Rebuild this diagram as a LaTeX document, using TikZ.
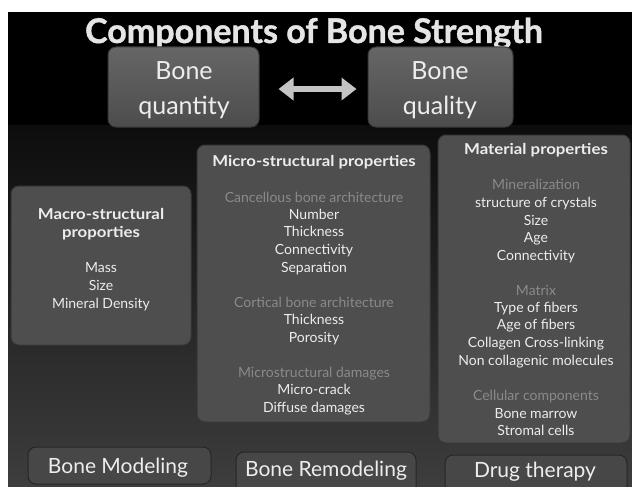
\documentclass[tikz,border=0pt]{standalone}
\usepackage{fontspec}
\setmainfont{Lato}
\newfontfamily\headfont{Lato}[FakeStretch=1.12]
\newfontfamily\titlefont{Lato}[FakeStretch=1.0, FakeBold=1.2]
\usetikzlibrary{arrows.meta}
\definecolor{boxfill}{HTML}{4E4E4E}
\definecolor{boxedge}{HTML}{383838}
\definecolor{subgray}{HTML}{8A8A8A}
\definecolor{txt}{HTML}{EDEDED}
\definecolor{arrowgray}{HTML}{C4C4C4}
\tikzset{
  panel/.style={rectangle, rounded corners=8pt, fill=boxfill, draw=boxedge, line width=1pt, inner sep=0pt},
  topbox/.style={rectangle, rounded corners=8pt, top color=black!60, bottom color=black!70, draw=boxedge, line width=1pt, inner sep=0pt},
  toptext/.style={text=txt, anchor=base, font=\fontsize{25}{30}\selectfont, inner sep=0pt},
  botbox/.style={rectangle, rounded corners=8pt, fill=black!72, draw=black!85, line width=1pt, inner sep=0pt},
  bottext/.style={text=txt, anchor=base, font=\fontsize{21}{25}\selectfont, inner sep=0pt},
  headline/.style={text=txt, anchor=base, font=\fontsize{15}{18}\headfont\bfseries, inner sep=0pt},
  itemline/.style={text=txt, anchor=base, font=\fontsize{14}{17}\selectfont, inner sep=0pt},
  subline/.style={text=subgray, anchor=base, font=\fontsize{14}{17}\selectfont, inner sep=0pt},
}
\begin{document}
\begin{tikzpicture}[x=1pt,y=-1pt]
\useasboundingbox (0,0) rectangle (632,487);
\clip (0,0) rectangle (632,487);
\fill[white] (0,0) rectangle (632,487);
\fill[black] (8,12) rectangle (632,126);
\shade[top color=black!95, bottom color=black!76] (8,125) rectangle (632,487);

% title
\node[anchor=base, text=black!10, font=\fontsize{34}{40}\titlefont\bfseries, inner sep=0pt] (title) at (314,43) {Components of Bone Strength};

% top boxes
\node[topbox, minimum width=151pt, minimum height=80pt] (qty) at (183.5,87) {};
\node[topbox, minimum width=145pt, minimum height=80pt] (qly) at (440.5,87) {};
\node[toptext] (qty1) at (184,80) {Bone};
\node[toptext] (qty2) at (184,114) {quantity};
\node[toptext] (qly1) at (440,80) {Bone};
\node[toptext] (qly2) at (440,114) {quality};
\draw[arrowgray, line width=6pt, {Triangle[length=15pt,width=22pt]}-{Triangle[length=15pt,width=22pt]}, shorten <=19pt, shorten >=11pt]
  ([yshift=-2pt]qty.east) -- ([yshift=-2pt]qly.west);

% panels
\node[panel, minimum width=180pt, minimum height=159pt] (macro) at (101,265.5) {};
\node[panel, minimum width=233pt, minimum height=277pt] (micro) at (313.5,283.5) {};
\node[panel, minimum width=192pt, minimum height=308pt] (mat) at (534,289) {};

% macro panel text
\node[headline] (ma1) at (101,219) {Macro-structural};
\node[headline] (ma2) at (101,237) {proporties};
\foreach \n/\yy/\t in {ma3/267/Mass, ma4/285/Size, ma5/303/Mineral Density}
  \node[itemline] (\n) at (101,\yy+5) {\t};

% micro panel text
\node[headline] (mi0) at (314,166) {Micro-structural properties};
\foreach \n/\yy/\t/\s in {
  mi1/197/Cancellous bone architecture/subline,
  mi2/214/Number/itemline,
  mi3/231/Thickness/itemline,
  mi4/249/Connectivity/itemline,
  mi5/267/Separation/itemline,
  mi6/302/Cortical bone architecture/subline,
  mi7/319/Thickness/itemline,
  mi8/337/Porosity/itemline,
  mi9/372/Microstructural damages/subline,
  mi10/389/Micro-crack/itemline,
  mi11/407/Diffuse damages/itemline}
  \node[\s] (\n) at (314,\yy+5) {\t};

% material panel text
\node[headline] (mt0) at (536,154) {Material properties};
\foreach \n/\yy/\t/\s in {
  mt1/184/Mineralization/subline,
  mt2/202/structure of crystals/itemline,
  mt3/220/Size/itemline,
  mt4/237/Age/itemline,
  mt5/255/Connectivity/itemline,
  mt6/290/Matrix/subline,
  mt7/307/Type of fibers/itemline,
  mt8/324/Age of fibers/itemline,
  mt9/342/Collagen Cross-linking/itemline,
  mt10/360/Non collagenic molecules/itemline,
  mt11/395/Cellular components/subline,
  mt12/413/Bone marrow/itemline,
  mt13/430/Stromal cells/itemline}
  \node[\s] (\n) at (536,\yy+5) {\t};

% bottom boxes
\node[botbox, minimum width=183pt, minimum height=37pt] (mod) at (119.5,465.5) {};
\node[botbox, minimum width=180pt, minimum height=44pt] (rem) at (326,474) {};
\node[botbox, minimum width=182pt, minimum height=44pt] (drug) at (536,477) {};
\node[bottext] (modt) at (118,473) {Bone Modeling};
\node[bottext] (remt) at (326,476) {Bone Remodeling};
\node[bottext] (drugt) at (535,477) {Drug therapy};
\end{tikzpicture}
\end{document}
